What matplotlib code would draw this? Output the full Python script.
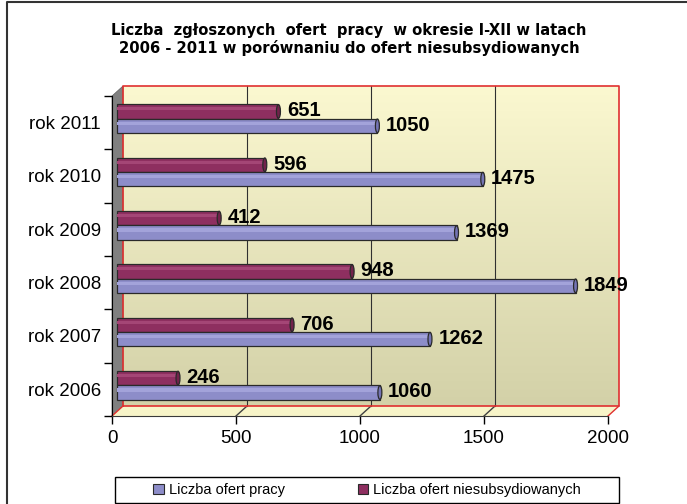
import matplotlib.pyplot as plt
import matplotlib.patches as mpatches
import matplotlib.lines as mlines
import matplotlib.transforms as mtransforms
import numpy as np

years = ["rok 2006", "rok 2007", "rok 2008", "rok 2009", "rok 2010", "rok 2011"]
oferty_pracy = [1060, 1262, 1849, 1369, 1475, 1050]
oferty_niesub = [246, 706, 948, 412, 596, 651]
series_names = ["Liczba ofert pracy", "Liczba ofert niesubsydiowanych"]
x_ticks = [0, 500, 1000, 1500, 2000]

title = ("Liczba  zgłoszonych  ofert  pracy  w okresie I-XII w latach\n"
         "2006 - 2011 w porównaniu do ofert niesubsydiowanych")

blue = "#8D8DC9"
blue_hi = "#A3A3DA"
blue_cap = "#7474B4"
purple = "#8E2F60"
purple_hi = "#A44676"
purple_cap = "#72224B"

W, H = 687, 504
fig = plt.figure(figsize=(W / 100, H / 100), dpi=100)
plt.rcParams['font.family'] = ['Liberation Sans', 'DejaVu Sans']

# front plane of the 3D box, in pixels
ax_l, ax_r, ax_t, ax_b = 112, 608, 96, 416
ax = fig.add_axes([ax_l / W, 1 - ax_b / H, (ax_r - ax_l) / W, (ax_b - ax_t) / H])
ax.set_facecolor("none")

# depth of the 3D box in axes fraction
dx = 11 / (ax_r - ax_l)
dy = 10 / (ax_b - ax_t)

# back wall with gradient
grad = np.linspace(0, 1, 256).reshape(-1, 1)
top_c = np.array([251, 248, 208]) / 255
bot_c = np.array([211, 209, 168]) / 255
img = top_c * (1 - grad[..., None]) + bot_c * grad[..., None]
img = img.reshape(256, 1, 3)
ax.imshow(img, extent=[dx, 1 + dx, dy, 1 + dy], transform=ax.transAxes,
          aspect="auto", zorder=0, clip_on=False, origin="upper")

# left wall
ax.add_patch(mpatches.Polygon([[0, 0], [0, 1], [dx, 1 + dy], [dx, dy]], closed=True,
                              transform=ax.transAxes, facecolor="#808080",
                              edgecolor="#606060", lw=0.5, clip_on=False, zorder=0.5))
# floor
ax.add_patch(mpatches.Polygon([[0, 0], [1, 0], [1 + dx, dy], [dx, dy]], closed=True,
                              transform=ax.transAxes, facecolor="#F7F4C8",
                              edgecolor="none", clip_on=False, zorder=0.5))

# gridlines on the back wall and on the floor
for v in x_ticks:
    xa = v / 2000
    ax.plot([xa, xa + dx], [0, dy], transform=ax.transAxes, clip_on=False,
            color="#E03030" if v in (0, 2000) else "#404040", lw=1, zorder=0.8)
    if v not in (0, 2000):
        ax.plot([xa + dx, xa + dx], [dy, 1 + dy], transform=ax.transAxes,
                clip_on=False, color="#303030", lw=0.8, zorder=0.8)

# red outline of the wall
ax.plot([dx, dx, 1 + dx, 1 + dx, dx], [dy, 1 + dy, 1 + dy, dy, dy],
        transform=ax.transAxes, clip_on=False, color="#E03030", lw=1.2, zorder=0.9)

ax.set_xlim(0, 2000)
ax.set_ylim(-0.5, len(years) - 0.5)

# bars, shifted to mid depth
shift = mtransforms.ScaledTranslation(5 / 100, 4 / 100, fig.dpi_scale_trans)
tr = ax.transData + shift
y = np.arange(len(years))
bh = 0.27
cap_w = 16

for vals, off, c, chi, ccap in [(oferty_niesub, bh / 2, purple, purple_hi, purple_cap),
                                (oferty_pracy, -bh / 2, blue, blue_hi, blue_cap)]:
    ax.barh(y + off, vals, height=bh, color=c, edgecolor="#2A2A2A", lw=0.9,
            transform=tr, zorder=2)
    ax.barh(y + off + bh * 0.18, vals, height=bh * 0.22, color=chi, edgecolor="none",
            transform=tr, zorder=2.1)
    for yi, v in zip(y, vals):
        ax.add_patch(mpatches.Ellipse((v, yi + off), cap_w, bh * 0.95, transform=tr,
                                      facecolor=ccap, edgecolor="#2A2A2A", lw=0.9,
                                      zorder=2.2))
        ax.annotate(str(v), (v, yi + off), xycoords=tr, xytext=(6, 0.5),
                    textcoords="offset points", ha="left", va="center",
                    fontsize=14.5, fontweight="bold", color="black", zorder=3)

# axes and ticks
for s in ["top", "right"]:
    ax.spines[s].set_visible(False)
ax.spines["left"].set_color("black")
ax.spines["bottom"].set_color("#3A3A3A")
ax.spines["left"].set_zorder(1)
ax.set_xticks(x_ticks)
ax.set_xticklabels([str(v) for v in x_ticks], fontsize=13.5)
ax.tick_params(axis="x", length=6, width=1, color="black", pad=4)
ax.set_yticks(np.arange(-0.5, len(years)), labels=[])
ax.tick_params(axis="y", which="major", length=6, width=1, color="black")
ax.set_yticks(y, minor=True)
ax.set_yticklabels(years, minor=True, fontsize=13.5)
ax.tick_params(axis="y", which="minor", length=0, pad=8)

# title
fig.text(349 / W, 1 - 23 / H, title, ha="center", va="top", fontsize=10.6,
         fontweight="bold", family="DejaVu Sans", linespacing=1.15)

# legend box
fig.add_artist(mpatches.Rectangle((115 / W, 1 - 503 / H), 504 / W, 26 / H,
                                  transform=fig.transFigure, facecolor="white",
                                  edgecolor="black", lw=1))
handles = [mpatches.Patch(facecolor=blue, edgecolor="#2A2A2A", lw=0.8),
           mpatches.Patch(facecolor=purple, edgecolor="#2A2A2A", lw=0.8)]
fig.legend(handles, series_names, loc="center", bbox_to_anchor=(367 / W, 1 - 490 / H),
           ncol=2, frameon=False, fontsize=10.5, handlelength=0.7, handleheight=0.7,
           handletextpad=0.35, columnspacing=5.0)

# outer frame (left and top edges only are visible)
fig.add_artist(mlines.Line2D([7 / W, 7 / W, 1.0], [0.0, 1 - 2 / H, 1 - 2 / H],
                             transform=fig.transFigure, color="#333333", lw=1.5))

fig.savefig("out.png", dpi=100)
